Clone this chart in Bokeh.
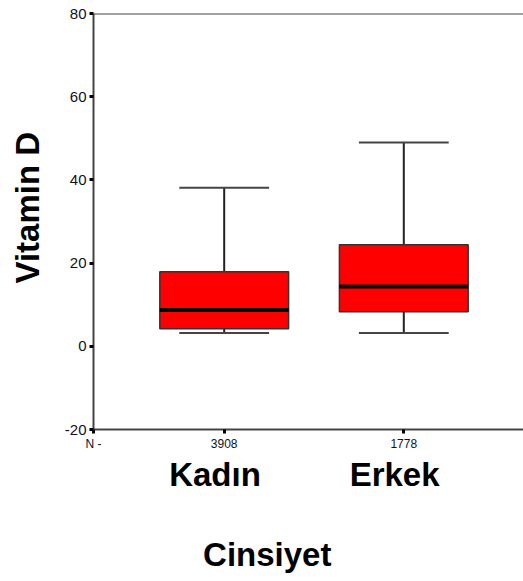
from bokeh.plotting import figure
from bokeh.models import Range1d, FixedTicker, Span, LinearAxis
from bokeh.embed import file_html
from bokeh.resources import INLINE

# ---- data ----
categories = ["Kadın", "Erkek"]
n_counts = ["3908", "1778"]
q1 = [4.2, 8.3]
median = [8.7, 14.4]
q3 = [17.9, 24.4]
lower = [3.2, 3.2]
upper = [38.1, 49.0]
y_ticks = [-20, 0, 20, 40, 60, 80]
x_label = "Cinsiyet"
y_label = "Vitamin D"

xs = [i + 1 for i in range(len(categories))]
FONT = "Liberation Sans"
NB = "\u00a0"
X0, X1 = 0.2723, 2.6665

p = figure(width=523, height=581, output_backend="svg", toolbar_location=None,
           x_range=Range1d(X0, X1), y_range=Range1d(-20, 80),
           min_border_left=93, min_border_right=0, min_border_top=13,
           min_border_bottom=152)
p.outline_line_color = None
p.grid.visible = False

# y axis
ya = p.yaxis[0]
ya.ticker = FixedTicker(ticks=y_ticks)
ya.major_label_overrides = {t: str(t) for t in y_ticks}
ya.minor_tick_line_color = None
ya.major_tick_in = 0
ya.major_tick_out = 4
ya.major_tick_line_width = 3
ya.major_tick_line_color = "black"
ya.axis_line_color = "#444444"
ya.axis_line_width = 2
ya.major_label_text_font = FONT
ya.major_label_text_font_size = "15px"
ya.major_label_text_color = "#111122"
ya.major_label_standoff = 3
ya.axis_label = NB * 3 + y_label
ya.axis_label_text_font = FONT
ya.axis_label_text_font_style = "bold"
ya.axis_label_text_font_size = "33px"
ya.axis_label_text_color = "black"
ya.axis_label_standoff = 16

# x axis (N counts)
xa = p.xaxis[0]
n_tick = X0 + 0.0003
xa.ticker = FixedTicker(ticks=[n_tick] + xs)
ov = {x: n for x, n in zip(xs, n_counts)}
ov[n_tick] = "N" + NB + "-"
xa.major_label_overrides = ov
xa.minor_tick_line_color = None
xa.major_tick_in = 0
xa.major_tick_out = 4
xa.major_tick_line_width = 3
xa.major_tick_line_color = "black"
xa.axis_line_color = "#444444"
xa.axis_line_width = 2
xa.major_label_text_font = FONT
xa.major_label_text_font_size = "12px"
xa.major_label_text_color = "#111122"
xa.major_label_standoff = 3

# category axis
ca = LinearAxis(ticker=FixedTicker(ticks=xs),
                major_label_overrides={x: c + NB * 2 for x, c in zip(xs, categories)})
ca.axis_line_color = None
ca.major_tick_line_color = None
ca.minor_tick_line_color = None
ca.major_label_text_font = FONT
ca.major_label_text_font_style = "bold"
ca.major_label_text_font_size = "33px"
ca.major_label_text_color = "black"
ca.major_label_standoff = -4
ca.axis_label = x_label + NB * 9
ca.axis_label_text_font = FONT
ca.axis_label_text_font_style = "bold"
ca.axis_label_text_font_size = "33px"
ca.axis_label_text_color = "black"
ca.axis_label_standoff = 40
p.add_layout(ca, "below")

# top border
p.add_layout(Span(location=80, dimension="width", line_color="#444444", line_width=2))

box_w = 0.717
cap_w = 0.5
# whiskers
p.segment(x0=xs, y0=q3, x1=xs, y1=upper, line_color="#222222", line_width=2)
p.segment(x0=xs, y0=lower, x1=xs, y1=q1, line_color="#222222", line_width=2)
p.segment(x0=[x - cap_w / 2 for x in xs], y0=upper, x1=[x + cap_w / 2 for x in xs], y1=upper,
          line_color="#444444", line_width=2)
p.segment(x0=[x - cap_w / 2 for x in xs], y0=lower, x1=[x + cap_w / 2 for x in xs], y1=lower,
          line_color="#444444", line_width=2)
# boxes
p.quad(left=[x - box_w / 2 for x in xs], right=[x + box_w / 2 for x in xs], bottom=q1, top=q3,
       fill_color="#ff0000", line_color="#333333", line_width=1.5)
# medians
p.segment(x0=[x - box_w / 2 for x in xs], y0=median, x1=[x + box_w / 2 for x in xs], y1=median,
          line_color="black", line_width=4)

open("out.html", "w").write(file_html(p, INLINE))
